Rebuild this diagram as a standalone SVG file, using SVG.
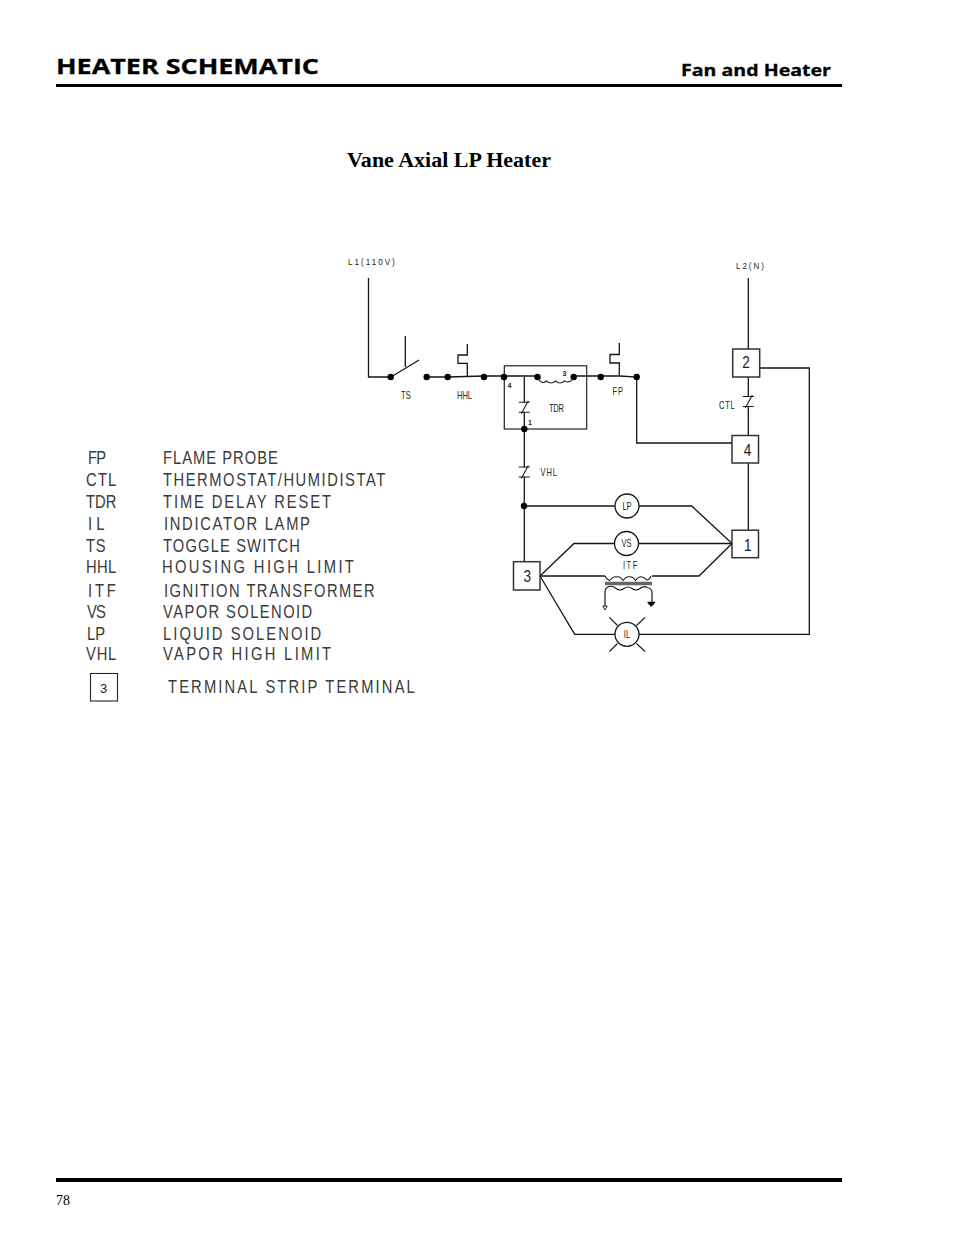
<svg xmlns="http://www.w3.org/2000/svg" width="954" height="1235" viewBox="0 0 954 1235">
<style>
text{font-family:"Liberation Sans","DejaVu Sans",sans-serif;fill:#222}
.head{font-family:"Open Sans","Noto Sans",sans-serif;font-weight:700;fill:#000;stroke:#000;stroke-width:.3}
.leg{font-size:18px;fill:#3a3a3a}
.sm{font-size:10px}
.tiny{font-size:9px}
.num{font-size:17px;text-anchor:middle}
.pin{font-size:7px;font-weight:bold}
.w,.w path{fill:none;stroke:#151515;stroke-width:1.300}
.box{fill:#fff;stroke:#333;stroke-width:1.500}
.circ{fill:#fff;stroke:#151515;stroke-width:1.300}
.dot{fill:#000}
.thick{stroke:#000;fill:none}
</style>
<defs>
<g id="contact"><rect x="-4" y="-4.500" width="8" height="9" fill="#fff"/><path d="M-5.500 -5H5.500M-5.500 5H5.500M-3 6.500L4 -6.500" fill="none" stroke="#1c1c1c" stroke-width="1.100"/></g>
</defs>
<g id="page-header">
<text class="head" x="56" y="73.500" font-size="21" textLength="263" lengthAdjust="spacingAndGlyphs">HEATER SCHEMATIC</text>
<text class="head" x="681" y="75.700" font-size="16.500" textLength="150" lengthAdjust="spacingAndGlyphs">Fan and Heater</text>
<line class="thick" x1="56" y1="85.500" x2="842" y2="85.500" stroke-width="3"/>
<text x="347" y="167" font-size="21" font-weight="bold" style="font-family:'Liberation Serif',serif;fill:#000" textLength="204" lengthAdjust="spacingAndGlyphs">Vane Axial LP Heater</text>
</g>
<g id="connectors" class="w">
<path d="M368.500 278V377H391"/>
<path d="M391 377L419 360M405.300 336V367"/>
<path d="M427 377H448L484 376H537.500M573.700 376H600.700L620 376L636.700 377V443H733"/>
<path d="M524.300 377V429V506V562"/>
<path d="M748.300 278V349M748.300 377V436M748.300 463V531"/>
<path d="M759 368H809.300V634.300H639"/>
<path d="M615 634.300H574.700L540 576"/>
<path d="M524 506H615M639 506H691.700L732 543.500"/>
<path d="M732 543.500H638.500M614.500 543.500H574L540 576"/>
<path d="M540 576H605M652 576H699L732 543.500"/>
<path d="M467.300 376V363.300H458V355H467.300V344"/>
<path d="M619.300 376V363H610V354.500H619.300V343"/>
</g>
<g id="legend">
<text class="leg" transform="translate(88 464) scale(.82 1)" textLength="22">FP</text><text class="leg" transform="translate(163 464) scale(.82 1)" textLength="140">FLAME PROBE</text>
<text class="leg" transform="translate(86 486) scale(.82 1)" textLength="37">CTL</text><text class="leg" transform="translate(163 486) scale(.82 1)" textLength="271">THERMOSTAT/HUMIDISTAT</text>
<text class="leg" transform="translate(86 508) scale(.82 1)" textLength="37">TDR</text><text class="leg" transform="translate(163 508) scale(.82 1)" textLength="205">TIME DELAY RESET</text>
<text class="leg" transform="translate(88 530) scale(.82 1)" textLength="20">IL</text><text class="leg" transform="translate(164 530) scale(.82 1)" textLength="178">INDICATOR LAMP</text>
<text class="leg" transform="translate(86 552) scale(.82 1)" textLength="24">TS</text><text class="leg" transform="translate(163 552) scale(.82 1)" textLength="167">TOGGLE SWITCH</text>
<text class="leg" transform="translate(86 573) scale(.82 1)" textLength="37">HHL</text><text class="leg" transform="translate(162 573) scale(.82 1)" textLength="234">HOUSING HIGH LIMIT</text>
<text class="leg" transform="translate(88 597) scale(.82 1)" textLength="34">ITF</text><text class="leg" transform="translate(164 597) scale(.82 1)" textLength="257">IGNITION TRANSFORMER</text>
<text class="leg" transform="translate(87 618) scale(.82 1)" textLength="23">VS</text><text class="leg" transform="translate(163 618) scale(.82 1)" textLength="182">VAPOR SOLENOID</text>
<text class="leg" transform="translate(87 640) scale(.82 1)" textLength="22">LP</text><text class="leg" transform="translate(163 640) scale(.82 1)" textLength="193">LIQUID SOLENOID</text>
<text class="leg" transform="translate(86 660) scale(.82 1)" textLength="37">VHL</text><text class="leg" transform="translate(163 660) scale(.82 1)" textLength="205">VAPOR HIGH LIMIT</text>
<rect x="90.500" y="673.500" width="27" height="27.500" fill="#fff" stroke="#222" stroke-width="1.100"/>
<text x="103.500" y="693" font-size="13" text-anchor="middle">3</text>
<text class="leg" transform="translate(168 693) scale(.82 1)" textLength="301">TERMINAL STRIP TERMINAL</text>
</g>
<g id="L1"><text class="tiny" transform="translate(348 265) scale(.9 1)" textLength="52">L1(110V)</text></g>
<g id="L2"><text class="tiny" transform="translate(736 269) scale(.9 1)" textLength="31">L2(N)</text></g>
<g id="TS">
<circle class="dot" cx="390.700" cy="377" r="3.200"/><circle class="dot" cx="426.700" cy="377" r="3.200"/>
<text class="sm" transform="translate(401 399) scale(.75 1)" textLength="13">TS</text>
</g>
<g id="HHL">
<circle class="dot" cx="447.700" cy="377" r="3.200"/><circle class="dot" cx="484" cy="377" r="3.200"/>
<text class="sm" transform="translate(457 399) scale(.75 1)" textLength="20">HHL</text>
</g>
<g id="TDR">
<rect x="504.300" y="365.800" width="82.400" height="63.200" fill="none" stroke="#222" stroke-width="1.200"/>
<circle class="dot" cx="504" cy="377" r="3.200"/><circle class="dot" cx="537.500" cy="377" r="3.200"/><circle class="dot" cx="573.700" cy="377" r="3.200"/><circle class="dot" cx="524.300" cy="429" r="3.200"/>
<path d="M537.500 378q4.500 7 9 3q4.500 4 9 0q4.500 4 9 0q4.500 3 9.200 -3" fill="none" stroke="#1c1c1c" stroke-width="1.100"/>
<use href="#contact" x="524.300" y="407.300"/>
<text class="sm" transform="translate(549 411.500) scale(.75 1)" textLength="20">TDR</text>
<text class="pin" x="507.500" y="388">4</text><text class="pin" x="562.500" y="376">3</text><text class="pin" x="528" y="425">1</text>
</g>
<g id="FP">
<circle class="dot" cx="600.700" cy="377" r="3.200"/><circle class="dot" cx="636.700" cy="377" r="3.200"/>
<text class="sm" transform="translate(612.500 395) scale(.75 1)" textLength="14">FP</text>
</g>
<g id="T2"><rect class="box" x="732.700" y="349" width="27" height="28"/><text class="num" transform="translate(746 367.500) scale(.8 1)">2</text></g>
<g id="CTL"><use href="#contact" x="748.300" y="401.500"/><text class="sm" transform="translate(719 409) scale(.75 1)" textLength="21">CTL</text></g>
<g id="T4"><rect class="box" x="732" y="435.500" width="26.500" height="27.500"/><text class="num" transform="translate(747.500 455.500) scale(.8 1)">4</text></g>
<g id="VHL"><use href="#contact" x="524.300" y="472"/><text class="sm" transform="translate(540.500 475.700) scale(.75 1)" textLength="22">VHL</text></g>
<circle class="dot" cx="524" cy="506" r="3.200"/>
<g id="LP"><circle class="circ" cx="627" cy="506" r="12"/><text class="sm" transform="translate(627 509.700) scale(.75 1)" text-anchor="middle">LP</text></g>
<g id="VS"><circle class="circ" cx="626.500" cy="543.500" r="12"/><text class="sm" transform="translate(626.500 547.200) scale(.75 1)" text-anchor="middle">VS</text></g>
<g id="T1"><rect class="box" x="732" y="530.200" width="26.500" height="27.500"/><text class="num" transform="translate(747.700 550.500) scale(.8 1)">1</text></g>
<g id="T3"><rect class="box" x="513.500" y="561.700" width="26.500" height="28.300"/><text class="num" transform="translate(527.300 581.700) scale(.8 1)">3</text></g>
<g id="ITF">
<text class="sm" transform="translate(623 569) scale(.75 1)" textLength="19">ITF</text>
<path d="M605 576q1.500 3.500 4.500 4.500q4 -4.500 7.500 -3.500q3 -1 6 3.500q3.500 -4.500 6.500 -3.500q3 -1 6 3.500q3.500 -4.500 6.500 -3.500q2.500 0 4.500 3q3 0 4.500 -4" fill="none" stroke="#1c1c1c" stroke-width="1.100"/>
<path d="M605 583.500H652" fill="none" stroke="#666" stroke-width="3.500"/>
<path d="M605 606V592q0 -4 4 -5.500q4 -1 7 2q4 3 8 0q4 -3 8 0q4 3 8 0q4 -3 7 -1q5 1 5 5V602" fill="none" stroke="#1c1c1c" stroke-width="1.200"/>
<path d="M602.800 606H607.200L605 610Z" fill="#fff" stroke="#222" stroke-width="1"/>
<path d="M647.500 602.500H655M648.500 604H654M650 605.500H652.500" fill="none" stroke="#000" stroke-width="1.300"/>
</g>
<g id="IL">
<circle class="circ" cx="627" cy="634.300" r="12"/>
<text class="sm" transform="translate(627 638) scale(.75 1)" text-anchor="middle">IL</text>
<path d="M617.500 625.500L609.500 617.500M636.500 625.500L645 617.500M617.500 643.500L609.500 651.500M636.500 643.500L645 651.500" fill="none" stroke="#1c1c1c" stroke-width="1.100"/>
</g>
<g id="page-footer">
<line class="thick" x1="56" y1="1180" x2="842" y2="1180" stroke-width="4"/>
<text x="56" y="1205" font-size="14" style="font-family:'Liberation Serif',serif;fill:#000">78</text>
</g>
</svg>
